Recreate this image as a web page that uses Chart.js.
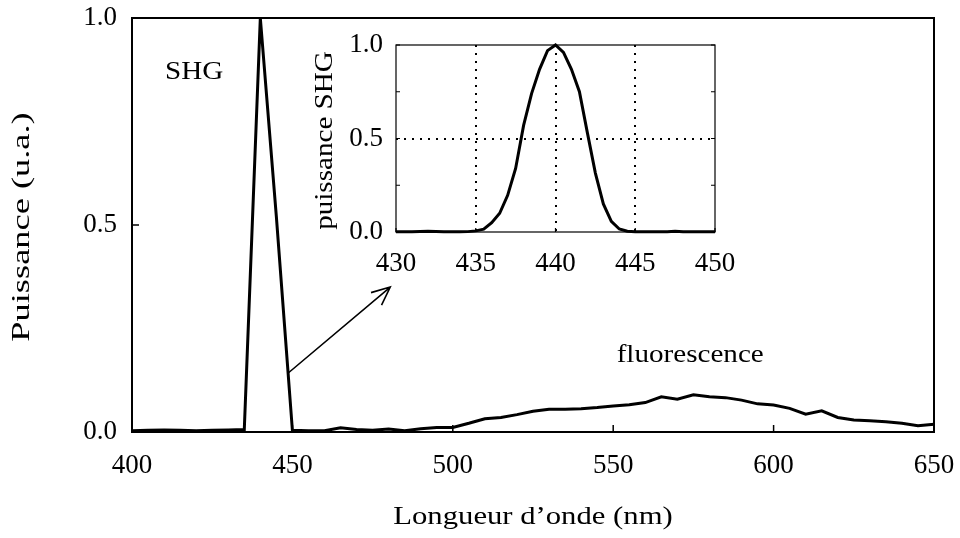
<!DOCTYPE html>
<html>
<head>
<meta charset="utf-8">
<script src="https://cdn.jsdelivr.net/npm/chart.js@4/dist/chart.umd.min.js"></script>
<style>
  html, body { margin: 0; padding: 0; background: #fff; }
  #wrap { position: relative; width: 960px; height: 538px; }
  #main { position: absolute; left: 0; top: 0; }
  #inset { position: absolute; left: 290px; top: 20px; }
</style>
</head>
<body>
<div id="wrap">
  <canvas id="main" width="960" height="538"></canvas>
  <canvas id="inset" width="450" height="270"></canvas>
</div>
<script>
// ---- spectre complet (pas de 5 nm) ----
const wavelengths = [400, 405, 410, 415, 420, 425, 430, 435, 440, 445,
  450, 455, 460, 465, 470, 475, 480, 485, 490, 495,
  500, 505, 510, 515, 520, 525, 530, 535, 540, 545,
  550, 555, 560, 565, 570, 575, 580, 585, 590, 595,
  600, 605, 610, 615, 620, 625, 630, 635, 640, 645, 650];
const power = [0.003, 0.004, 0.005, 0.004, 0.003, 0.004, 0.005, 0.006, 1.0, 0.52,
  0.004, 0.003, 0.003, 0.010, 0.006, 0.004, 0.007, 0.003, 0.008, 0.011,
  0.011, 0.021, 0.032, 0.035, 0.042, 0.050, 0.055, 0.055, 0.056, 0.059,
  0.063, 0.066, 0.071, 0.085, 0.079, 0.090, 0.085, 0.083, 0.077, 0.068,
  0.065, 0.057, 0.043, 0.051, 0.035, 0.029, 0.027, 0.025, 0.021, 0.015, 0.019];

// ---- zoom sur le pic SHG (pas de 0.5 nm) ----
const zoomWavelengths = [430, 430.5, 431, 431.5, 432, 432.5, 433, 433.5, 434, 434.5,
  435, 435.5, 436, 436.5, 437, 437.5, 438, 438.5, 439, 439.5,
  440, 440.5, 441, 441.5, 442, 442.5, 443, 443.5, 444, 444.5,
  445, 445.5, 446, 446.5, 447, 447.5, 448, 448.5, 449, 449.5, 450];
const zoomPower = [0.002, 0.002, 0.002, 0.003, 0.004, 0.003, 0.002, 0.002, 0.001, 0.002,
  0.006, 0.015, 0.050, 0.100, 0.196, 0.340, 0.570, 0.740, 0.870, 0.970,
  1.000, 0.960, 0.870, 0.750, 0.530, 0.315, 0.150, 0.057, 0.016, 0.004,
  0.001, 0.001, 0.001, 0.001, 0.001, 0.004, 0.001, 0.001, 0.001, 0.001, 0.002];

// ---- graduations ----
const mainXTicks = [400, 450, 500, 550, 600, 650];
const mainYTicks = [0, 0.5, 1];
const zoomXTicks = [430, 435, 440, 445, 450];
const zoomYTicks = [0, 0.25, 0.5, 0.75, 1];
const zoomYLabeled = [0, 0.5, 1];
const zoomGridX = [435, 440, 445];
const zoomGridY = [0.5];

// annotations (coordonnées en unités des axes)
const shgLabel = { text: 'SHG', x: 419.4, y: 0.87 };
const fluoLabel = { text: 'fluorescence', x: 574, y: 0.185 };
const arrowFrom = [448.7, 0.1425];
const arrowTo = [480.5, 0.35];

const serif = "'Liberation Serif', 'Times New Roman', serif";
Chart.defaults.font.family = serif;
Chart.defaults.font.size = 27;
Chart.defaults.color = '#000';
Chart.defaults.animation = false;

// texte étiré horizontalement (la figure d'origine est un peu élargie)
function stretchedText(ctx, text, x, y, sx, rot) {
  ctx.save();
  ctx.translate(x, y);
  if (rot) ctx.rotate(rot);
  ctx.scale(sx, 1);
  ctx.fillText(text, 0, 0);
  ctx.restore();
}

// pas de marge automatique pour les étiquettes qui débordent
function noOverflow(s) {
  s.paddingLeft = 0; s.paddingRight = 0; s.paddingTop = 0; s.paddingBottom = 0;
}

// cadre + graduations vers l'intérieur + titres
const boxPlugin = {
  id: 'box',
  afterDraw(chart, args, opts) {
    const { ctx, chartArea: a, scales: { x, y } } = chart;
    ctx.save();
    ctx.strokeStyle = '#000';
    ctx.lineWidth = opts.lineWidth;
    ctx.strokeRect(a.left, a.top, a.right - a.left, a.bottom - a.top);
    ctx.lineWidth = opts.tickWidth;
    ctx.beginPath();
    x.ticks.forEach(t => {
      const px = x.getPixelForValue(t.value);
      ctx.moveTo(px, a.bottom);
      ctx.lineTo(px, a.bottom - opts.tickLen);
    });
    y.ticks.forEach(t => {
      const py = y.getPixelForValue(t.value);
      ctx.moveTo(a.left, py);
      ctx.lineTo(a.left + opts.tickLen, py);
      if (opts.rightTicks) {
        ctx.moveTo(a.right, py);
        ctx.lineTo(a.right - opts.tickLen, py);
      }
    });
    ctx.stroke();

    ctx.fillStyle = '#000';
    ctx.font = '26px ' + serif;
    ctx.textAlign = 'center';
    ctx.textBaseline = 'middle';
    if (opts.xTitle) {
      stretchedText(ctx, opts.xTitle, (a.left + a.right) / 2, opts.xTitleY, opts.xStretch, 0);
    }
    if (opts.yTitle) {
      stretchedText(ctx, opts.yTitle, opts.yTitleX, (a.top + a.bottom) / 2 + 2, opts.yStretch, -Math.PI / 2);
    }
    ctx.restore();
  }
};

const notesPlugin = {
  id: 'notes',
  afterDraw(chart) {
    const { ctx, scales: { x, y } } = chart;
    ctx.save();
    ctx.fillStyle = '#000';
    ctx.font = '26px ' + serif;
    ctx.textAlign = 'center';
    ctx.textBaseline = 'middle';
    [shgLabel, fluoLabel].forEach(l => {
      stretchedText(ctx, l.text, x.getPixelForValue(l.x), y.getPixelForValue(l.y), 1.12, 0);
    });
    const x0 = x.getPixelForValue(arrowFrom[0]), y0 = y.getPixelForValue(arrowFrom[1]);
    const x1 = x.getPixelForValue(arrowTo[0]), y1 = y.getPixelForValue(arrowTo[1]);
    const ang = Math.atan2(y1 - y0, x1 - x0);
    const head = 20, spread = 0.42;
    ctx.strokeStyle = '#000';
    ctx.lineWidth = 1.6;
    ctx.beginPath();
    ctx.moveTo(x0, y0);
    ctx.lineTo(x1, y1);
    ctx.moveTo(x1 - head * Math.cos(ang - spread), y1 - head * Math.sin(ang - spread));
    ctx.lineTo(x1, y1);
    ctx.lineTo(x1 - head * Math.cos(ang + spread), y1 - head * Math.sin(ang + spread));
    ctx.stroke();
    ctx.restore();
  }
};

// recale la zone de tracé sur la position voulue
function pinArea(chart, target) {
  for (let i = 0; i < 4; i++) {
    const a = chart.chartArea;
    const p = chart.options.layout.padding;
    const dt = target.top - a.top, dr = a.right - target.right;
    const dl = target.left - a.left, db = a.bottom - target.bottom;
    if (Math.abs(dt) + Math.abs(dr) + Math.abs(dl) + Math.abs(db) < 0.5) break;
    p.top += dt; p.right += dr; p.left += dl; p.bottom += db;
    chart.update();
  }
}

const mainChart = new Chart(document.getElementById('main'), {
  type: 'line',
  data: {
    datasets: [{
      data: wavelengths.map((w, i) => ({ x: w, y: power[i] })),
      borderColor: '#000',
      borderWidth: 3,
      pointRadius: 0,
      tension: 0,
      clip: 6
    }]
  },
  options: {
    responsive: false,
    layout: { autoPadding: false, padding: { left: 0, top: 18, right: 26, bottom: 0 } },
    plugins: {
      legend: { display: false },
      tooltip: { enabled: false },
      box: {
        lineWidth: 2, tickWidth: 1.5, tickLen: 7, rightTicks: false,
        xTitle: 'Longueur d\u2019onde (nm)', xTitleY: 517, xStretch: 1.18,
        yTitle: 'Puissance (u.a.)', yTitleX: 22, yStretch: 1.4
      }
    },
    scales: {
      x: {
        type: 'linear',
        min: 400,
        max: 650,
        afterBuildTicks: s => { s.ticks = mainXTicks.map(v => ({ value: v })); },
        afterFit: s => { s.height = 106; noOverflow(s); },
        grid: { display: false, drawTicks: false },
        border: { display: false },
        ticks: { padding: 18, maxRotation: 0, callback: v => String(v) }
      },
      y: {
        min: 0,
        max: 1,
        afterBuildTicks: s => { s.ticks = mainYTicks.map(v => ({ value: v })); },
        afterFit: s => { s.width = 132; noOverflow(s); },
        grid: { display: false, drawTicks: false },
        border: { display: false },
        ticks: { padding: 15, callback: v => v.toFixed(1) }
      }
    }
  },
  plugins: [boxPlugin, notesPlugin]
});
pinArea(mainChart, { left: 132, top: 18, right: 934, bottom: 432 });

const insetChart = new Chart(document.getElementById('inset'), {
  type: 'line',
  data: {
    datasets: [{
      data: zoomWavelengths.map((w, i) => ({ x: w, y: zoomPower[i] })),
      borderColor: '#000',
      borderWidth: 3,
      pointRadius: 0,
      tension: 0,
      clip: 4
    }]
  },
  options: {
    responsive: false,
    layout: { autoPadding: false, padding: { left: 0, top: 25, right: 25, bottom: 0 } },
    plugins: {
      legend: { display: false },
      tooltip: { enabled: false },
      box: {
        lineWidth: 1.2, tickWidth: 1.2, tickLen: 4, rightTicks: true,
        yTitle: 'puissance SHG', yTitleX: 35, yStretch: 1.12
      }
    },
    scales: {
      x: {
        type: 'linear',
        min: 430,
        max: 450,
        afterBuildTicks: s => { s.ticks = zoomXTicks.map(v => ({ value: v })); },
        afterFit: s => { s.height = 58; noOverflow(s); },
        grid: {
          drawTicks: false,
          lineWidth: 2,
          color: c => (c.tick && zoomGridX.includes(c.tick.value)) ? '#000' : 'rgba(0,0,0,0)',
          borderDash: [2, 6]
        },
        border: { display: false, dash: [2, 6] },
        ticks: { padding: 16, maxRotation: 0, callback: v => String(v) }
      },
      y: {
        min: 0,
        max: 1,
        afterBuildTicks: s => { s.ticks = zoomYTicks.map(v => ({ value: v })); },
        afterFit: s => { s.width = 106; noOverflow(s); },
        grid: {
          drawTicks: false,
          lineWidth: 2,
          color: c => (c.tick && zoomGridY.includes(c.tick.value)) ? '#000' : 'rgba(0,0,0,0)',
          borderDash: [2, 6]
        },
        border: { display: false, dash: [2, 6] },
        ticks: { padding: 13, callback: v => zoomYLabeled.includes(v) ? v.toFixed(1) : '' }
      }
    }
  },
  plugins: [boxPlugin]
});
// zone du médaillon : 396..715 x 45..232 dans la page, canvas décalé de (290, 20)
pinArea(insetChart, { left: 106, top: 25, right: 425, bottom: 212 });
</script>
</body>
</html>
